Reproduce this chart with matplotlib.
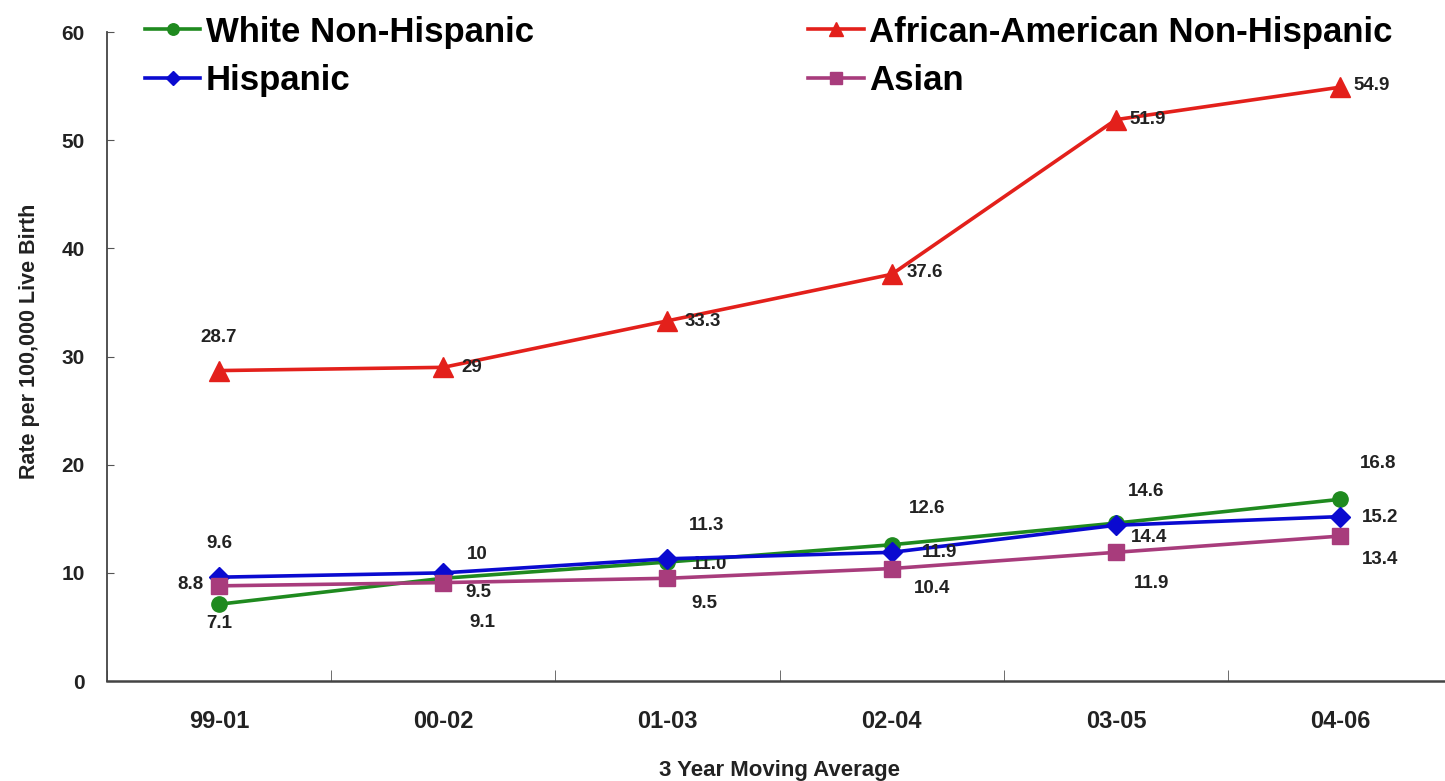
import matplotlib
matplotlib.use("Agg")
import matplotlib.pyplot as plt

plt.rcParams['font.family'] = ['Liberation Sans', 'DejaVu Sans']

# 3 year moving average periods
periodos = ["99-01", "00-02", "01-03", "02-04", "03-05", "04-06"]

# rates per 100,000 live births
white = [7.1, 9.5, 11.0, 12.6, 14.6, 16.8]
african_american = [28.7, 29, 33.3, 37.6, 51.9, 54.9]
hispanic = [9.6, 10, 11.3, 11.9, 14.4, 15.2]
asian = [8.8, 9.1, 9.5, 10.4, 11.9, 13.4]

# where each data label sits relative to its point (pixels)
off_white = [(0, -19), (35, -14), (42, -2), (35, 36), (30, 32), (38, 36)]
off_aa = [(0, 33), (28, 0), (35, -1), (33, 2), (32, 0), (32, 2)]
off_hisp = [(0, 34), (34, 18), (39, 33), (48, 0), (33, -12), (40, -1)]
off_asian = [(-29, 1), (39, -40), (37, -25), (40, -20), (36, -31), (40, -23)]

fig = plt.figure(figsize=(14.45, 7.81), dpi=100)
ax = fig.add_axes([0.074, 0.128, 0.931, 0.831])

x = list(range(len(periodos)))
series = [
    (white, "White Non-Hispanic", "#1f8a1f", "o", 11, off_white),
    (african_american, "African-American Non-Hispanic", "#e3201b", "^", 14, off_aa),
    (hispanic, "Hispanic", "#0a0ad0", "D", 10, off_hisp),
    (asian, "Asian", "#a83c7c", "s", 11, off_asian),
]

linhas = []
for vals, nome, cor, mk, ms, offs in series:
    l, = ax.plot(x, vals, color=cor, marker=mk, markersize=ms, linewidth=2.6,
                 label=nome, zorder=3)
    linhas.append(l)
    for xi, v, (dx, dy) in zip(x, vals, offs):
        txt = f"{v:.1f}" if v == 11.0 else f"{v:g}"
        ax.annotate(txt, (xi, v), xytext=(dx, dy),
                    textcoords="offset pixels", ha="center", va="center",
                    fontsize=13.5, fontweight="bold", color="#222222")

ax.set_xlim(-0.5, 5.5)
ax.set_ylim(0, 60)
ax.set_yticks(range(0, 61, 10))
ax.set_xticks(x)
ax.set_xticklabels(periodos)
ax.set_xticks([i + 0.5 for i in range(-1, 6)], minor=True)
ax.tick_params(axis="x", which="major", length=0, pad=21, labelsize=17)
ax.tick_params(axis="x", which="minor", direction="in", length=8, color="#555555")
ax.tick_params(axis="y", direction="in", length=5, pad=16, labelsize=15, color="#555555")
for lbl in ax.get_xticklabels() + ax.get_yticklabels():
    lbl.set_fontweight("bold")
    lbl.set_color("#222222")

for lado in ["top", "right"]:
    ax.spines[lado].set_visible(False)
ax.spines["left"].set_linewidth(1.3)
ax.spines["left"].set_color("#444444")
ax.spines["bottom"].set_linewidth(1.8)
ax.spines["bottom"].set_color("#444444")

ax.set_ylabel("Rate per 100,000 Live Birth", fontsize=15.5, fontweight="bold",
              labelpad=15, color="#222222", y=0.524)
ax.set_xlabel("3 Year Moving Average", fontsize=16, fontweight="bold",
              labelpad=19, color="#222222")

# legend filled column by column: White, Hispanic | African-American, Asian
ordem = [linhas[0], linhas[2], linhas[1], linhas[3]]
fig.legend(ordem, [l.get_label() for l in ordem], ncol=2, loc="upper left",
           bbox_to_anchor=(0.1003, 0.98), frameon=False,
           prop={"size": 25, "weight": "bold"}, handlelength=1.6,
           handletextpad=0.15, columnspacing=7.9, labelspacing=0.45,
           borderpad=0.0, borderaxespad=0.0, markerscale=0.75)

fig.savefig("out.png", dpi=100)
